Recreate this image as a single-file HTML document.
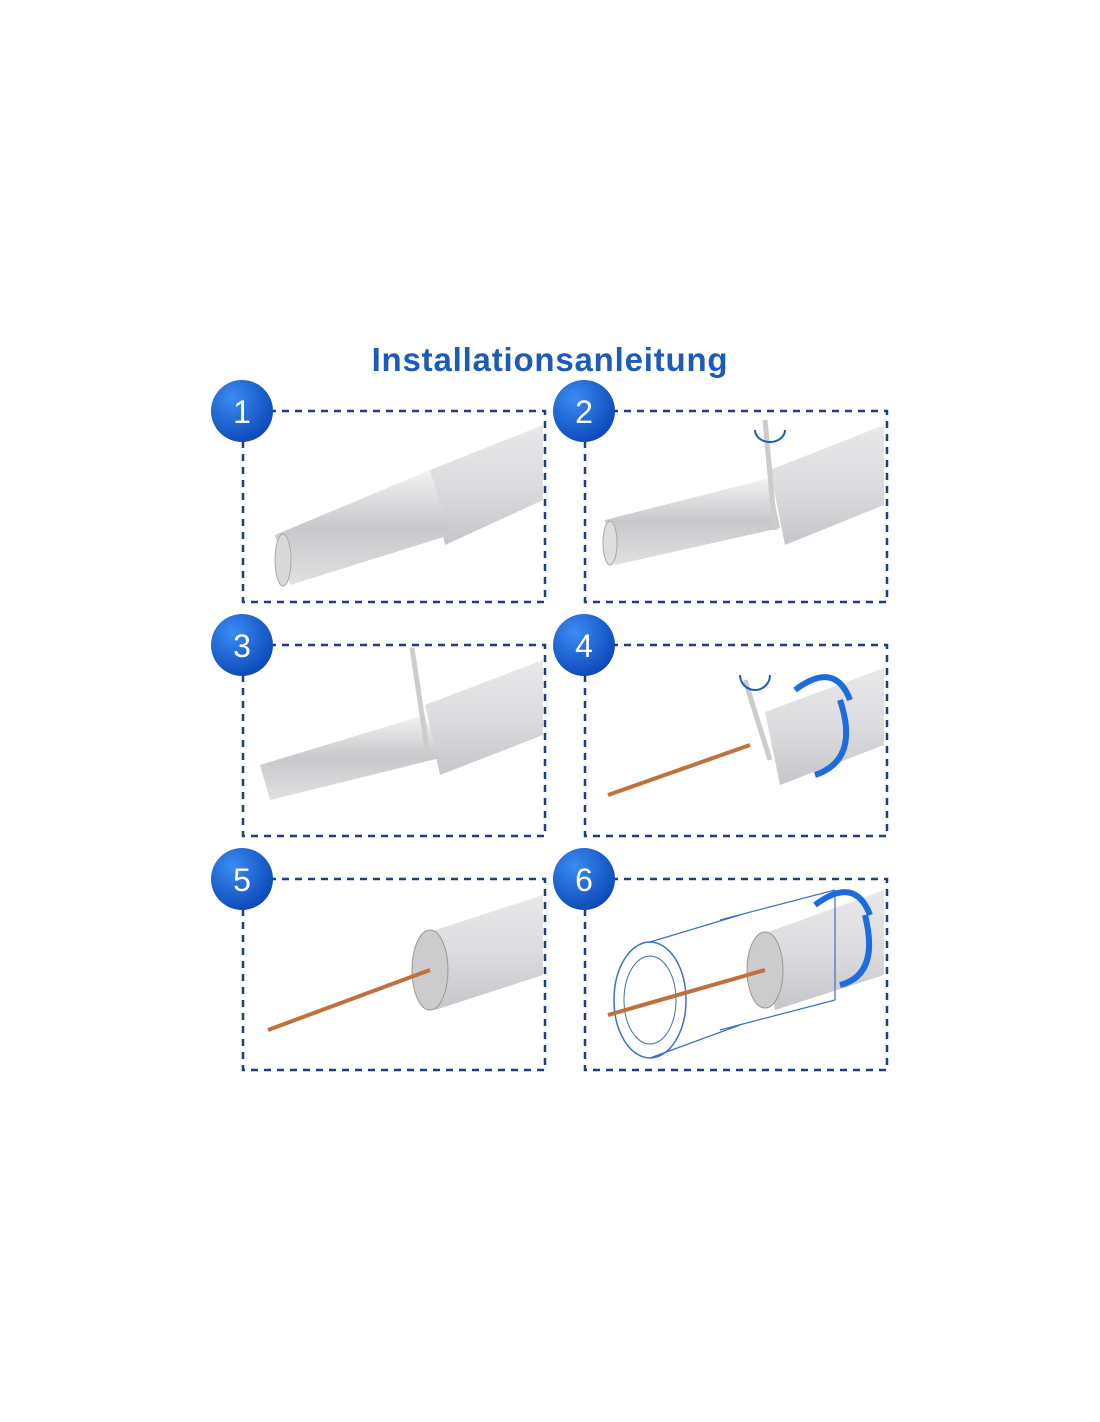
<!DOCTYPE html>
<html><head><meta charset="utf-8"><style>
body{margin:0;background:#fff;width:1100px;height:1422px;position:relative;overflow:hidden;font-family:"Liberation Sans",sans-serif}
.t{position:absolute;left:0;width:1100px;top:341px;text-align:center;color:#1d5bb8;font-weight:bold;font-size:33px;letter-spacing:0.8px}
svg{position:absolute;left:0;top:0}
</style></head><body>
<div class="t">Installationsanleitung</div>
<svg width="1100" height="1422" viewBox="0 0 1100 1422">
<defs>
<radialGradient id="cg" cx="35%" cy="30%" r="75%"><stop offset="0" stop-color="#3a8cf2"/><stop offset="1" stop-color="#0c47b8"/></radialGradient>
<linearGradient id="jk" x1="0" y1="0" x2="0" y2="1"><stop offset="0" stop-color="#e8e8ea"/><stop offset="0.5" stop-color="#dcdcdf"/><stop offset="1" stop-color="#c6c6ca"/></linearGradient>
<linearGradient id="br" x1="0" y1="0" x2="0" y2="1"><stop offset="0" stop-color="#f2f2f2"/><stop offset="0.5" stop-color="#c8c8cc"/><stop offset="1" stop-color="#e0e0e0"/></linearGradient>
<g id="box"><rect x="0" y="0" width="302" height="191" fill="none" stroke="#1f3d85" stroke-width="2.5" stroke-dasharray="7,6"/></g>
</defs>
<use href="#box" x="243" y="411"/><use href="#box" x="585" y="411"/>
<use href="#box" x="243" y="645"/><use href="#box" x="585" y="645"/>
<use href="#box" x="243" y="879"/><use href="#box" x="585" y="879"/>
<polygon points="430,470 543,425 543,500 445,545" fill="url(#jk)"/>
<polygon points="275,535 430,470 450,535 290,585" fill="url(#br)"/>
<ellipse cx="283" cy="560" rx="8" ry="26" fill="#d8d8d8" stroke="#aaa"/>
<polygon points="770,470 884,425 884,505 785,545" fill="url(#jk)"/>
<polygon points="605,520 770,478 780,528 615,565" fill="url(#br)"/>
<ellipse cx="610" cy="543" rx="7" ry="22" fill="#ddd" stroke="#aaa"/>
<path d="M765 420 L775 530" stroke="#ccc" stroke-width="5" fill="none"/>
<path d="M755 430 a15 12 0 1 0 30 0" stroke="#1d5bb8" stroke-width="2" fill="none"/>
<polygon points="425,705 543,660 543,735 440,775" fill="url(#jk)"/>
<polygon points="260,765 425,715 440,758 270,800" fill="url(#br)"/>
<path d="M412 648 L428 755" stroke="#ccc" stroke-width="5" fill="none"/>
<polygon points="765,712 884,668 884,745 780,785" fill="url(#jk)"/>
<line x1="608" y1="795" x2="750" y2="745" stroke="#c0703a" stroke-width="4"/>
<path d="M745 680 L770 760" stroke="#ccc" stroke-width="5"/>
<path d="M740 675 a14 14 0 1 0 30 0" stroke="#1d5bb8" stroke-width="2" fill="none"/>
<path d="M795 690 q40 -30 55 10 M840 700 q20 60 -25 75" stroke="#1d6be0" stroke-width="6" fill="none"/>
<polygon points="420,935 543,895 543,975 435,1010" fill="url(#jk)"/>
<ellipse cx="430" cy="970" rx="18" ry="40" fill="#ccc" stroke="#999"/>
<line x1="268" y1="1030" x2="430" y2="970" stroke="#c0703a" stroke-width="4"/>
<polygon points="760,935 884,890 884,975 775,1010" fill="url(#jk)"/>
<ellipse cx="765" cy="970" rx="18" ry="38" fill="#ccc" stroke="#999"/>
<ellipse cx="650" cy="1000" rx="36" ry="58" fill="#fff" stroke="#3b6fc8" stroke-width="1.5"/>
<ellipse cx="650" cy="1000" rx="26" ry="44" fill="none" stroke="#3b6fc8" stroke-width="1"/>
<path d="M650 942 L740 915 M650 1058 L740 1025 M720 920 L835 890 M720 1030 L835 1000 M835 890 L835 1000" stroke="#3b6fc8" stroke-width="1.2" fill="none"/>
<line x1="608" y1="1015" x2="765" y2="970" stroke="#c0703a" stroke-width="4"/>
<path d="M815 905 q40 -30 55 10 M865 915 q15 60 -25 70" stroke="#1d6be0" stroke-width="6" fill="none"/>
<g font-family="Liberation Sans,sans-serif" font-size="32" fill="#fff" text-anchor="middle">
<circle cx="242" cy="411" r="31" fill="url(#cg)"/><text x="242" y="423">1</text>
<circle cx="584" cy="411" r="31" fill="url(#cg)"/><text x="584" y="423">2</text>
<circle cx="242" cy="645" r="31" fill="url(#cg)"/><text x="242" y="657">3</text>
<circle cx="584" cy="645" r="31" fill="url(#cg)"/><text x="584" y="657">4</text>
<circle cx="242" cy="879" r="31" fill="url(#cg)"/><text x="242" y="891">5</text>
<circle cx="584" cy="879" r="31" fill="url(#cg)"/><text x="584" y="891">6</text>
</g>
</svg>
</body></html>
